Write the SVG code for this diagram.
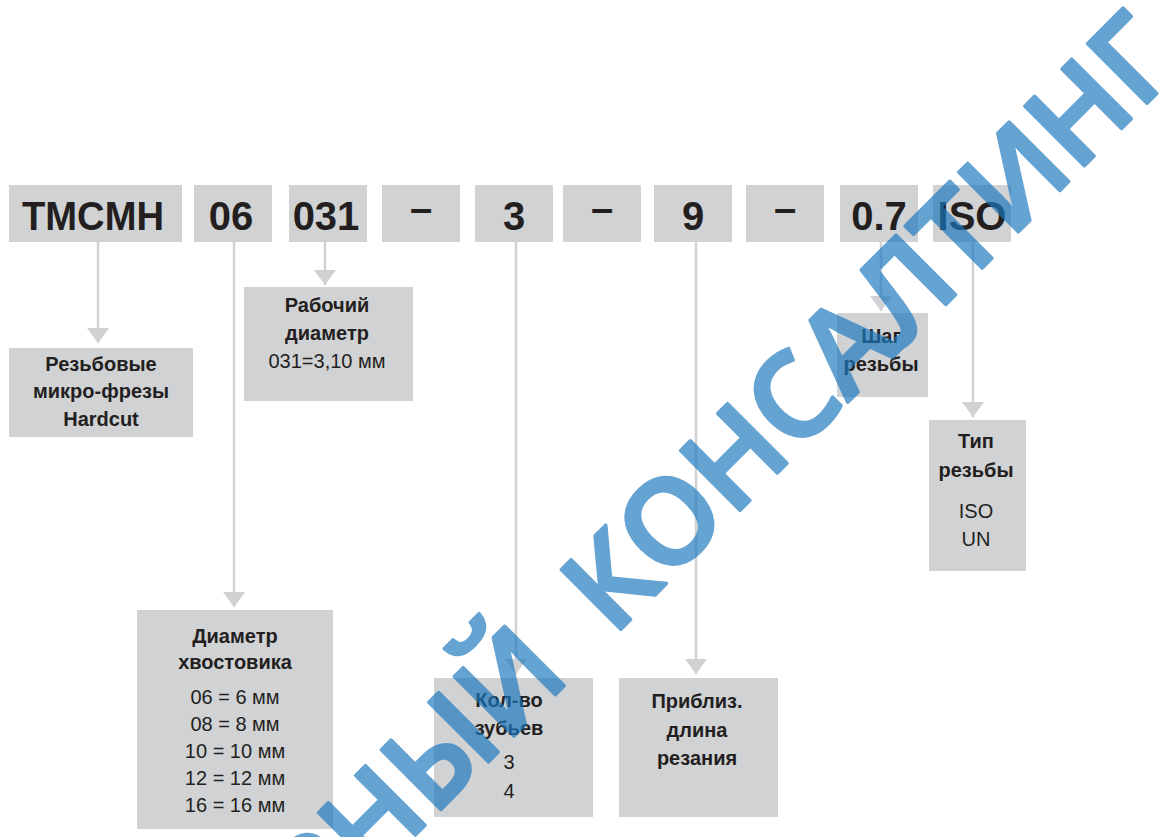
<svg xmlns="http://www.w3.org/2000/svg" width="1163" height="837" viewBox="0 0 1163 837">
  <style>
    .box { fill: #d1d2d4; }
    .code { font-family: "Liberation Sans", Arial, sans-serif; font-weight: 700; font-size: 40px; fill: #231f20; text-anchor: middle; }
    .lbl { font-family: "Liberation Sans", Arial, sans-serif; font-weight: 700; font-size: 20px; fill: #231f20; text-anchor: middle; }
    .val { font-family: "Liberation Sans", Arial, sans-serif; font-weight: 400; font-size: 20px; fill: #231f20; text-anchor: middle; }
    .conn { stroke: #d1d1d3; stroke-width: 2.5; fill: none; marker-end: url(#tri); }
    .wm { font-family: "Open Sans", "Noto Sans", sans-serif; font-weight: 600; font-size: 118px; fill: #1b78be; stroke: #1b78be; stroke-width: 3.5; stroke-linejoin: round; }
  </style>
  <defs>
    <marker id="tri" markerUnits="userSpaceOnUse" markerWidth="16" markerHeight="24" refX="15" refY="11" orient="auto" viewBox="0 0 16 22">
      <path d="M0,0 L15,11 L0,22 z" fill="#d1d1d3"/>
    </marker>
  </defs>
  <rect width="1163" height="837" fill="#ffffff"/>

  <!-- code segments -->
  <g id="seg-series"><rect class="box" x="9" y="185" width="173" height="57"/><text class="code" x="93" y="230" textLength="142" lengthAdjust="spacingAndGlyphs">TMCMH</text></g>
  <g id="seg-shank"><rect class="box" x="194" y="185" width="78" height="57"/><text class="code" x="231" y="230">06</text></g>
  <g id="seg-dia"><rect class="box" x="289" y="185" width="78" height="57"/><text class="code" x="326" y="230">031</text></g>
  <g id="seg-dash1"><rect class="box" x="382" y="185" width="78" height="57"/><text class="code" x="421" y="222">–</text></g>
  <g id="seg-teeth"><rect class="box" x="475" y="185" width="78" height="57"/><text class="code" x="514" y="230">3</text></g>
  <g id="seg-dash2"><rect class="box" x="563" y="185" width="78" height="57"/><text class="code" x="602" y="222">–</text></g>
  <g id="seg-length"><rect class="box" x="654" y="185" width="78" height="57"/><text class="code" x="693" y="230">9</text></g>
  <g id="seg-dash3"><rect class="box" x="746" y="185" width="78" height="57"/><text class="code" x="785" y="222">–</text></g>
  <g id="seg-pitch"><rect class="box" x="840" y="185" width="78" height="57"/><text class="code" x="879" y="230">0.7</text></g>
  <g id="seg-thread"><rect class="box" x="933" y="185" width="78" height="57"/><text class="code" x="972" y="230">ISO</text></g>

  <!-- connectors -->
  <g id="connectors">
    <line class="conn" x1="98" y1="242" x2="98" y2="343"/>
    <line class="conn" x1="234" y1="242" x2="234" y2="607"/>
    <line class="conn" x1="325" y1="242" x2="325" y2="285"/>
    <line class="conn" x1="516" y1="242" x2="516" y2="674"/>
    <line class="conn" x1="696" y1="242" x2="696" y2="674"/>
    <line class="conn" x1="881" y1="242" x2="881" y2="311"/>
    <line class="conn" x1="973" y1="242" x2="973" y2="417"/>
  </g>

  <!-- explanation boxes -->
  <g id="lbl-series">
    <rect class="box" x="9" y="348" width="184" height="89"/>
    <text class="lbl" x="101" y="371">Резьбовые</text>
    <text class="lbl" x="101" y="398">микро-фрезы</text>
    <text class="lbl" x="101" y="426">Hardcut</text>
  </g>
  <g id="lbl-dia">
    <rect class="box" x="244" y="287" width="169" height="114"/>
    <text class="lbl" x="327" y="312">Рабочий</text>
    <text class="lbl" x="327" y="340">диаметр</text>
    <text class="val" x="327" y="368">031=3,10 мм</text>
  </g>
  <g id="lbl-shank">
    <rect class="box" x="137" y="610" width="196" height="219"/>
    <text class="lbl" x="235" y="643">Диаметр</text>
    <text class="lbl" x="235" y="669">хвостовика</text>
    <text class="val" x="235" y="704">06 = 6 мм</text>
    <text class="val" x="235" y="731">08 = 8 мм</text>
    <text class="val" x="235" y="758">10 = 10 мм</text>
    <text class="val" x="235" y="785">12 = 12 мм</text>
    <text class="val" x="235" y="812">16 = 16 мм</text>
  </g>
  <g id="lbl-teeth">
    <rect class="box" x="434" y="678" width="159" height="139"/>
    <text class="lbl" x="509" y="707">Кол-во</text>
    <text class="lbl" x="509" y="735">зубьев</text>
    <text class="val" x="509" y="769">3</text>
    <text class="val" x="509" y="798">4</text>
  </g>
  <g id="lbl-length">
    <rect class="box" x="619" y="678" width="159" height="139"/>
    <text class="lbl" x="697" y="708">Приблиз.</text>
    <text class="lbl" x="697" y="737">длина</text>
    <text class="lbl" x="697" y="765">резания</text>
  </g>
  <g id="lbl-pitch">
    <rect class="box" x="837" y="313" width="91" height="84"/>
    <text class="lbl" x="881" y="343">Шаг</text>
    <text class="lbl" x="881" y="371">резьбы</text>
  </g>
  <g id="lbl-thread">
    <rect class="box" x="929" y="420" width="97" height="151"/>
    <text class="lbl" x="976" y="448">Тип</text>
    <text class="lbl" x="976" y="477">резьбы</text>
    <text class="val" x="976" y="518">ISO</text>
    <text class="val" x="976" y="546">UN</text>
  </g>

  <!-- diagonal watermark, composited once so fill and stroke share one opacity -->
  <g id="watermark" opacity="0.68" transform="rotate(-45)">
    <text class="wm" y="884"><tspan x="-433">РНЫЙ</tspan><tspan x="-17">КОНСАЛТИНГ</tspan></text>
  </g>
</svg>
